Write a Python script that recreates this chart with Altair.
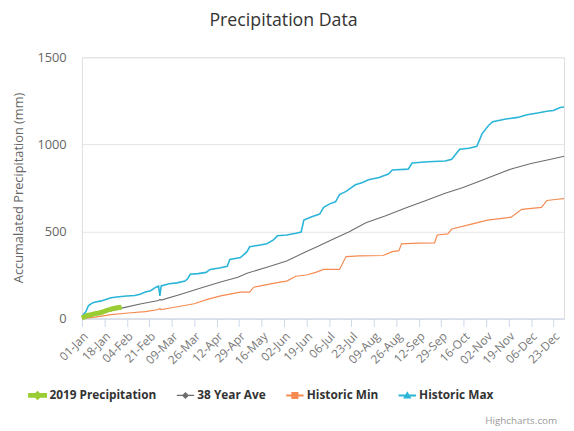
import altair as alt
import pandas as pd

# ---------------- data ----------------
series_names = ["2019 Precipitation", "38 Year Ave", "Historic Min", "Historic Max"]
series_colors = ["#9ACD32", "#6E6E6E", "#F68B52", "#2BB5D8"]
series_widths = [5, 1.1, 1.2, 1.6]

# day offsets from 01-Jan (leap-year calendar) and accumulated mm
p2019_days = [0, 2, 4, 7, 10, 13, 16, 18, 21, 24, 27, 30]
p2019_vals = [3, 10, 18, 22, 28, 32, 38, 45, 52, 58, 62, 66]

avg_days = [0, 15, 30, 45, 58, 59, 60, 75, 90, 105, 118, 125, 140, 155, 168,
            180, 190, 202, 215, 230, 245, 260, 275, 288, 300, 315, 325, 340, 355, 365]
avg_vals = [0, 30, 60, 85, 103, 110, 106, 140, 175, 210, 237, 260, 295, 330, 378,
            420, 455, 497, 550, 590, 635, 677, 720, 751, 785, 830, 859, 890, 915, 932]

min_days = [0, 10, 22, 35, 48, 58, 59, 60, 70, 85, 95, 105, 112, 120, 127, 130, 140,
            150, 155, 162, 170, 177, 183, 195, 200, 210, 228, 235, 240, 242, 255, 267,
            269, 277, 280, 295, 307, 318, 325, 333, 348, 352, 360, 365]
min_vals = [0, 8, 23, 32, 40, 52, 58, 52, 65, 85, 110, 130, 140, 152, 152, 180, 195,
            209, 215, 243, 250, 265, 282, 282, 356, 360, 362, 384, 390, 429, 433, 435,
            480, 486, 514, 542, 565, 575, 582, 627, 638, 678, 685, 689]

max_days = [0, 3, 5, 8, 10, 14, 18, 22, 28, 34, 40, 44, 48, 52, 56, 58, 59, 60, 66, 72,
            78, 80, 82, 88, 94, 97, 104, 110, 112, 116, 120, 125, 127, 133, 140, 145, 148,
            155, 162, 166, 168, 174, 180, 183, 188, 192, 195, 200, 207, 212, 217, 225, 232,
            235, 247, 250, 262, 275, 280, 286, 293, 299, 303, 308, 311, 322, 330, 337, 345,
            352, 357, 362, 365]
max_vals = [10, 40, 75, 90, 95, 100, 110, 120, 125, 130, 132, 140, 152, 160, 180, 186,
            130, 187, 200, 205, 215, 228, 254, 258, 265, 282, 290, 300, 339, 345, 350, 384,
            412, 420, 430, 452, 475, 480, 490, 497, 565, 585, 600, 638, 660, 670, 712, 730,
            768, 780, 797, 810, 830, 853, 858, 893, 900, 905, 915, 972, 978, 989, 1062, 1110,
            1130, 1147, 1155, 1170, 1180, 1190, 1195, 1212, 1215]

tick_dates = ["2020-01-01", "2020-01-18", "2020-02-04", "2020-02-21", "2020-03-09",
              "2020-03-26", "2020-04-12", "2020-04-29", "2020-05-16", "2020-06-02",
              "2020-06-19", "2020-07-06", "2020-07-23", "2020-08-09", "2020-08-26",
              "2020-09-12", "2020-09-29", "2020-10-16", "2020-11-02", "2020-11-19",
              "2020-12-06", "2020-12-23"]
y_ticks = [0, 500, 1000, 1500]

# legend symbols: line + marker (unit = 4 px)
legend_paths = [
    "M-2.4,-0.6L2.4,-0.6L2.4,0.6L-2.4,0.6Z M0,-1.2L1.2,0L0,1.2L-1.2,0Z",
    "M-2.2,-0.15L2.2,-0.15L2.2,0.15L-2.2,0.15Z M0,-0.9L0.9,0L0,0.9L-0.9,0Z",
    "M-2.2,-0.25L2.2,-0.25L2.2,0.25L-2.2,0.25Z M-0.9,-0.9L0.9,-0.9L0.9,0.9L-0.9,0.9Z",
    "M-2.2,-0.25L2.2,-0.25L2.2,0.25L-2.2,0.25Z M0,-1.05L1.05,0.8L-1.05,0.8Z",
]

# ---------------- build table ----------------
base_date = pd.Timestamp("2020-01-01")
rows = []
for name, days, vals in [
    (series_names[0], p2019_days, p2019_vals),
    (series_names[1], avg_days, avg_vals),
    (series_names[2], min_days, min_vals),
    (series_names[3], max_days, max_vals),
]:
    for d, v in zip(days, vals):
        rows.append({"series": name,
                     "date": (base_date + pd.Timedelta(days=d)).strftime("%Y-%m-%dT%H:%M:%S"),
                     "value": v})
df = pd.DataFrame(rows)

def to_dt(s):
    y, m, d = s.split("-")
    return alt.DateTime(year=int(y), month=int(m), date=int(d))

FONT = "Open Sans"

x_enc = alt.X(
    "date:T",
    scale=alt.Scale(domain=[to_dt("2020-01-01"), to_dt("2020-12-31")]),
    axis=alt.Axis(
        values=[to_dt(t) for t in tick_dates], format="%d-%b", labelAngle=-45,
        labelFont=FONT, labelFontSize=12, labelColor="#777777", labelPadding=4,
        domainColor="#ccd6eb", tickColor="#ccd6eb", tickSize=8, grid=False,
        title=None, labelOverlap=False,
    ),
)
y_enc = alt.Y(
    "value:Q",
    scale=alt.Scale(domain=[0, 1500], nice=False),
    axis=alt.Axis(
        values=y_ticks, format="d", labelFont=FONT, labelFontSize=13, labelColor="#666666",
        labelPadding=16, domain=False, ticks=False, gridColor="#e6e6e6",
        title="Accumalated Precipitation (mm)", titleFont=FONT, titleFontSize=13,
        titleFontWeight="normal", titleColor="#666666", titleX=-64, titleY=132,
        titleAngle=-90, titleAlign="center", titleBaseline="middle",
    ),
)

layers = []
# draw order: Max, Min, Ave, 2019 on top
for i in [3, 2, 1, 0]:
    layers.append(
        alt.Chart(df)
        .transform_filter(alt.datum.series == series_names[i])
        .mark_line(color=series_colors[i], strokeWidth=series_widths[i])
        .encode(x=x_enc, y=y_enc)
    )

legend = alt.Legend(
    orient="none", direction="horizontal", legendX=-51, legendY=337, title=None,
    symbolSize=64, symbolStrokeWidth=0, labelOffset=6, columnPadding=20,
    labelFont=FONT, labelFontSize=12, labelFontWeight="bold", labelColor="#333333",
)
legend_layer = (
    alt.Chart(df)
    .transform_filter("false")
    .mark_point(filled=True, opacity=1)
    .encode(
        x=x_enc, y=y_enc,
        color=alt.Color("series:N", scale=alt.Scale(domain=series_names, range=series_colors),
                        legend=legend),
        shape=alt.Shape("series:N", scale=alt.Scale(domain=series_names, range=legend_paths),
                        legend=legend),
    )
)
layers.append(legend_layer)

credit = alt.Chart(pd.DataFrame({"t": ["Highcharts.com"]})).mark_text(
    align="right", baseline="alphabetic", font=FONT, fontSize=10, color="#999999"
).encode(text="t:N", x=alt.value(482), y=alt.value(372))
layers.append(credit)

chart = (
    alt.layer(*layers)
    .properties(
        width=489, height=265,
        title=alt.Title("Precipitation Data", font=FONT, fontSize=18, fontWeight="normal",
                        color="#333333", dx=-40, offset=22, anchor="middle"),
        autosize=alt.AutoSizeParams(type="none"),
        padding={"left": 75, "top": 47, "right": 2, "bottom": 108},
    )
    .configure_view(stroke=None)
    .configure(background="white")
)

chart.save("out.html", embed_options={"renderer": "svg", "actions": False})
